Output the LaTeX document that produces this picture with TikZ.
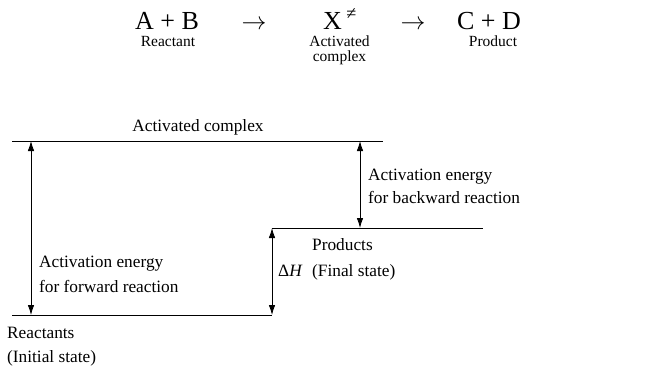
\documentclass[tikz,border=0pt]{standalone}
\usepackage{fontspec}
\setmainfont{Liberation Serif}
\usetikzlibrary{arrows.meta}
\begin{document}
\begin{tikzpicture}[x=1pt,y=-1pt,
  lvl/.style={line width=0.9pt},
  dbl/.style={line width=0.8pt,{Latex[length=10pt,width=6.5pt]}-{Latex[length=10pt,width=6.5pt]}},
  txt/.style={inner sep=0pt,font=\fontsize{17.3}{23}\selectfont},
  big/.style={inner sep=0pt,font=\fontsize{26}{30}\selectfont},
  small/.style={inner sep=0pt,font=\fontsize{15.5}{15.5}\selectfont,align=center}]
\useasboundingbox (0,0) rectangle (653,368);
% equation
\node[big,anchor=base] (ab) at (167,29) {A + B};
\node[big,anchor=base] (ar1) at (254,29) {$\rightarrow$};
\node[big,anchor=base west] (x) at (323,29) {X\,\textsuperscript{≠}};
\node[big,anchor=base] (ar2) at (413,29) {$\rightarrow$};
\node[big,anchor=base] (cd) at (489,29) {C + D};
\node[small,anchor=base] (lr) at (168,46) {Reactant};
\node[small,anchor=north] (lx) at (339.5,35.5) {Activated\\complex};
\node[small,anchor=base] (lp) at (493,46) {Product};
% levels
\coordinate (tL) at (12,141);
\coordinate (tR) at (383,141);
\coordinate (pL) at (272,228);
\coordinate (pR) at (483,228);
\coordinate (rL) at (12,315);
\coordinate (rR) at (272,315);
\draw[lvl] (tL) -- (tR);
\draw[lvl] (pL) -- (pR);
\draw[lvl] (rL) -- (rR);
% arrows
\coordinate (f1) at (31,141);
\coordinate (f2) at (31,315);
\coordinate (b1) at (360,141);
\coordinate (b2) at (360,228);
\coordinate (h1) at (272,228);
\coordinate (h2) at (272,315);
\draw[dbl] (f1) -- (f2);
\draw[dbl] (b1) -- (b2);
\draw[dbl] (h1) -- (h2);
% labels
\node[txt,anchor=base] (ac) at (198,131) {Activated complex};
\node[txt,anchor=base west] (bw1) at (368,180) {Activation energy};
\node[txt,anchor=base west] (bw2) at (368,203) {for backward reaction};
\node[txt,anchor=base west] (pr1) at (312,250) {Products};
\node[txt,anchor=base west] (pr2) at (312,276) {(Final state)};
\node[txt,anchor=base west] (dh) at (278,276) {Δ\textit{H}};
\node[txt,anchor=base west] (fw1) at (39,267) {Activation energy};
\node[txt,anchor=base west] (fw2) at (39,292) {for forward reaction};
\node[txt,anchor=base west] (re1) at (7,338) {Reactants};
\node[txt,anchor=base west] (re2) at (7,362) {(Initial state)};
\end{tikzpicture}
\end{document}
